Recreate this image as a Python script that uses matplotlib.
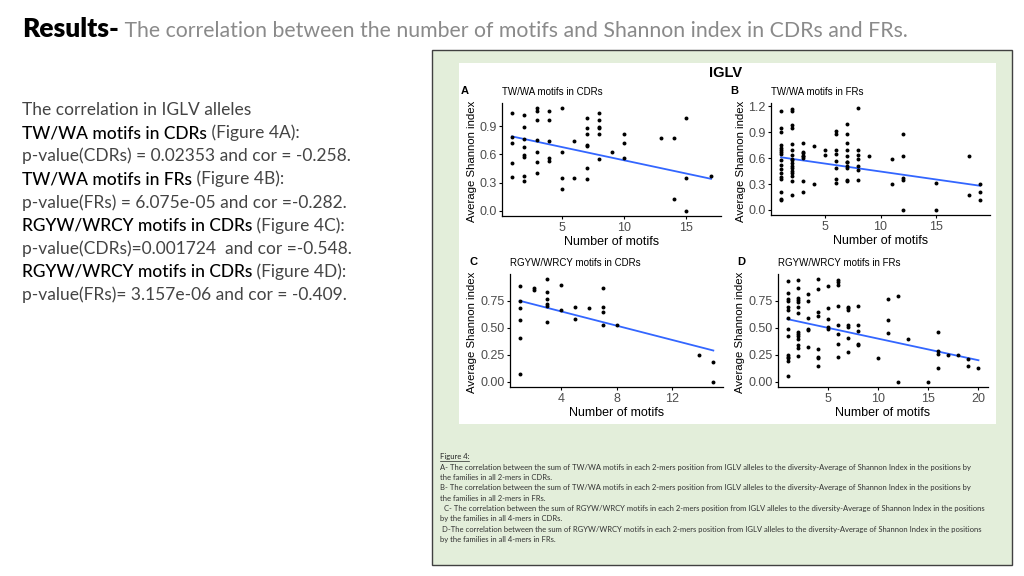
import numpy as np
import matplotlib
matplotlib.use("Agg")
import matplotlib.pyplot as plt
from matplotlib.patches import Rectangle

# ---- data ----
# A: TW/WA motifs in CDRs
a_x = [1, 1, 1, 1, 1,
       2, 2, 2, 2, 2, 2, 2, 2,
       3, 3, 3, 3, 3, 3, 3,
       4, 4, 4, 4, 4,
       5, 5, 5, 5,
       6, 6,
       7, 7, 7, 7, 7, 7, 7,
       8, 8, 8, 8, 8, 8,
       9, 10, 10, 10, 13, 14, 14, 15, 15, 15, 17]
a_y = [1.04, 0.78, 0.72, 0.51, 0.36,
       1.02, 0.89, 0.76, 0.68, 0.59, 0.57, 0.37, 0.32,
       1.09, 1.06, 0.96, 0.75, 0.62, 0.52, 0.40,
       1.06, 0.96, 0.74, 0.56, 0.53,
       1.09, 0.62, 0.35, 0.23,
       0.74, 0.35,
       0.99, 0.88, 0.82, 0.70, 0.69, 0.46, 0.34,
       1.04, 0.96, 0.89, 0.88, 0.82, 0.55,
       0.62, 0.82, 0.72, 0.56, 0.77, 0.77, 0.13, 0.99, 0.35, 0.0, 0.37]
a_fit = [0.79, 0.34]   # fitted line at min / max x

# B: TW/WA motifs in FRs
b_x = [1] * 17 + [2] * 17 + [3] * 8 + [4] * 2 + [5] * 2 + [6] * 8 + [7] * 11 + \
      [8] * 7 + [9] + [11] * 2 + [12] * 5 + [15] * 2 + [18] * 2 + [19] * 3
b_y = [1.15, 0.95, 0.90, 0.75, 0.72, 0.70, 0.67, 0.65, 0.58, 0.52, 0.47, 0.43, 0.38, 0.36, 0.21, 0.13, 0.11,
       1.17, 1.15, 0.98, 0.95, 0.76, 0.69, 0.64, 0.59, 0.58, 0.54, 0.51, 0.48, 0.45, 0.43, 0.39, 0.33, 0.17,
       0.77, 0.67, 0.66, 0.63, 0.62, 0.60, 0.33, 0.21,
       0.74, 0.30,
       0.69, 0.64,
       0.91, 0.88, 0.70, 0.65, 0.57, 0.48, 0.36, 0.31,
       0.99, 0.88, 0.78, 0.70, 0.62, 0.56, 0.55, 0.51, 0.49, 0.35, 0.33,
       1.18, 0.70, 0.64, 0.59, 0.51, 0.46, 0.35,
       0.62,
       0.59, 0.30,
       0.88, 0.62, 0.37, 0.35, 0.0,
       0.31, 0.0,
       0.62, 0.17,
       0.30, 0.21, 0.11]
b_fit = [0.61, 0.28]

# C: RGYW/WRCY motifs in CDRs
c_x = [1, 1, 1, 1, 1, 1, 2, 2, 3, 3, 3, 3, 3, 3, 4, 4, 5, 5, 6,
       7, 7, 7, 7, 8, 14, 15, 15]
c_y = [0.89, 0.75, 0.68, 0.57, 0.41, 0.07, 0.87, 0.85,
       0.95, 0.83, 0.77, 0.72, 0.70, 0.55, 0.90, 0.66, 0.69, 0.58, 0.68,
       0.87, 0.69, 0.65, 0.53, 0.53, 0.25, 0.18, 0.0]
c_fit = [0.75, 0.29]

# D: RGYW/WRCY motifs in FRs
d_x = [1] * 14 + [2] * 14 + [3] * 6 + [4] * 8 + [5] * 5 + [6] * 8 + [7] * 7 + \
      [8] * 5 + [10] + [11] * 3 + [12] * 2 + [13] + [15] + [16] * 4 + [17] + \
      [18] + [19] * 2 + [20]
d_y = [0.93, 0.82, 0.77, 0.75, 0.69, 0.66, 0.59, 0.49, 0.42, 0.25, 0.23, 0.22, 0.19, 0.05,
       0.94, 0.87, 0.78, 0.76, 0.74, 0.69, 0.64, 0.46, 0.44, 0.42, 0.40, 0.34, 0.31, 0.24,
       0.81, 0.75, 0.59, 0.49, 0.48, 0.32,
       0.95, 0.86, 0.65, 0.61, 0.30, 0.23, 0.22, 0.15,
       0.89, 0.68, 0.58, 0.51, 0.49,
       0.94, 0.92, 0.90, 0.70, 0.53, 0.44, 0.35, 0.23,
       0.69, 0.68, 0.66, 0.53, 0.51, 0.41, 0.28,
       0.70, 0.53, 0.47, 0.35, 0.34,
       0.22,
       0.77, 0.57, 0.45,
       0.79, 0.0,
       0.40,
       0.0,
       0.46, 0.29, 0.26, 0.13,
       0.25,
       0.25,
       0.21, 0.15,
       0.13]
d_fit = [0.58, 0.20]

side_lines = [
    ("", "The correlation in IGLV alleles"),
    ("TW/WA motifs in CDRs", " (Figure 4A):"),
    ("", "p-value(CDRs) = 0.02353 and cor = -0.258."),
    ("TW/WA motifs in FRs", " (Figure 4B):"),
    ("", "p-value(FRs) = 6.075e-05 and cor =-0.282."),
    ("RGYW/WRCY motifs in CDRs", " (Figure 4C):"),
    ("", "p-value(CDRs)=0.001724  and cor =-0.548."),
    ("RGYW/WRCY motifs in CDRs", " (Figure 4D):"),
    ("", "p-value(FRs)= 3.157e-06 and cor = -0.409."),
]

caption = [
    "A- The correlation between the sum of TW/WA motifs in each 2-mers position from IGLV alleles to the diversity-Average of Shannon Index in the positions by",
    "the families in all 2-mers in CDRs.",
    "B- The correlation between the sum of TW/WA motifs in each 2-mers position from IGLV alleles to the diversity-Average of Shannon Index in the positions by",
    "the families in all 2-mers in FRs.",
    "  C- The correlation between the sum of RGYW/WRCY motifs in each 2-mers position from IGLV alleles to the diversity-Average of Shannon Index in the positions",
    "by the families in all 4-mers in CDRs.",
    " D-The correlation between the sum of RGYW/WRCY motifs in each 2-mers position from IGLV alleles to the diversity-Average of Shannon Index in the positions",
    "by the families in all 4-mers in FRs.",
]

W, H = 1024, 576
SLIDE_FONT = ["Lato", "DejaVu Sans"]
PLOT_FONT = "Liberation Sans"
fig = plt.figure(figsize=(W / 100, H / 100), dpi=100)
fig.patch.set_facecolor("white")

# background axes in pixel coordinates (top-left origin) for slide text and boxes
bg = fig.add_axes([0, 0, 1, 1])
bg.set_xlim(0, W)
bg.set_ylim(H, 0)
bg.axis("off")
bg.set_zorder(-1)

# title
t0 = bg.text(22, 29, "Results-", fontsize=19, fontweight="heavy",
             family=SLIDE_FONT, color="black", va="center")
bg.annotate(" The correlation between the number of motifs and Shannon index in CDRs and FRs.",
            xy=(1, 0), xycoords=t0, va="bottom", fontsize=15.3,
            family=SLIDE_FONT, color="#8a8a8a", annotation_clip=False)

# left block of text
y = 110
for bold, rest in side_lines:
    if bold:
        tb = bg.text(22, y, bold, fontsize=12.5, family=SLIDE_FONT, fontweight="medium",
                     color="#000000", va="center")
        bg.annotate(rest, xy=(1, 0), xycoords=tb, va="bottom", fontsize=12.5,
                    family=SLIDE_FONT, color="#444444", annotation_clip=False)
    else:
        bg.text(22, y, rest, fontsize=12.5, family=SLIDE_FONT, color="#444444", va="center")
    y += 23.1

# figure box on the right
bg.add_patch(Rectangle((432, 50), 1012 - 432, 565 - 50, facecolor="#e3eeda",
                       edgecolor="#404040", lw=1))
bg.add_patch(Rectangle((459, 63), 996 - 459, 424 - 63, facecolor="white",
                       edgecolor="none"))

bg.text(726, 73, "IGLV", fontsize=10.5, fontweight="bold",
        family=PLOT_FONT, ha="center", va="center")


def px_box(l, t, r, b):
    return [l / W, 1 - b / H, (r - l) / W, (b - t) / H]


def panel(rect, xs, ys, fit, xticks, yticks, yfmt, letter, title):
    ax = fig.add_axes(px_box(*rect))
    xs = np.array(xs, dtype=float)
    ys = np.array(ys, dtype=float)
    ax.scatter(xs, ys, s=8, c="black", linewidths=0, zorder=3)
    ax.plot([xs.min(), xs.max()], fit, color="#3366ff", lw=1.3, zorder=2)
    xr = xs.max() - xs.min()
    yr = ys.max() - ys.min()
    ax.set_xlim(xs.min() - 0.05 * xr, xs.max() + 0.05 * xr)
    ax.set_ylim(ys.min() - 0.05 * yr, ys.max() + 0.05 * yr)
    ax.set_xticks(xticks)
    ax.set_yticks(yticks)
    ax.set_yticklabels([yfmt.format(v) for v in yticks])
    for s in ["top", "right"]:
        ax.spines[s].set_visible(False)
    for s in ["left", "bottom"]:
        ax.spines[s].set_linewidth(0.9)
    ax.tick_params(labelsize=9, labelcolor="#4d4d4d", length=2.5, width=0.8, pad=1.5)
    for lab in ax.get_xticklabels() + ax.get_yticklabels():
        lab.set_family(PLOT_FONT)
    ax.set_xlabel("Number of motifs", fontsize=9, family=PLOT_FONT, labelpad=2)
    ax.set_ylabel("Average Shannon index", fontsize=8.2, family=PLOT_FONT, labelpad=1)
    # right edge of the rotated label sits just left of the tick labels
    gap = 25 if yfmt == "{:.1f}" else 33
    ax.yaxis.set_label_coords(-gap / (rect[2] - rect[0]), 0.48)
    ax.set_facecolor("none")
    l, t = rect[0], rect[1]
    bg.text(l - 41, t - 12, letter, fontsize=8, fontweight="bold",
            family=PLOT_FONT, va="center")
    bg.text(l, t - 11, title, fontsize=7, family=PLOT_FONT, va="center")
    return ax


panel((502, 103, 721, 216), a_x, a_y, a_fit, [5, 10, 15], [0.0, 0.3, 0.6, 0.9], "{:.1f}",
      "A", "TW/WA motifs in CDRs")
panel((771, 103, 990, 215), b_x, b_y, b_fit, [5, 10, 15], [0.0, 0.3, 0.6, 0.9, 1.2], "{:.1f}",
      "B", "TW/WA motifs in FRs")
panel((510, 274, 723, 387), c_x, c_y, c_fit, [4, 8, 12], [0.0, 0.25, 0.5, 0.75], "{:.2f}",
      "C", "RGYW/WRCY motifs in CDRs")
panel((778, 274, 988, 387), d_x, d_y, d_fit, [5, 10, 15, 20], [0.0, 0.25, 0.5, 0.75], "{:.2f}",
      "D", "RGYW/WRCY motifs in FRs")

# caption
bg.text(440, 457, "Figure 4:", fontsize=5.5, family=SLIDE_FONT, color="#262626", va="center")
bg.plot([440, 469], [461, 461], color="#262626", lw=0.5)
cy = 467.3
for line in caption:
    bg.text(440, cy, line, fontsize=5.5, family=SLIDE_FONT, color="#333333", va="center")
    cy += 10.3

fig.savefig("out.png", dpi=100)
